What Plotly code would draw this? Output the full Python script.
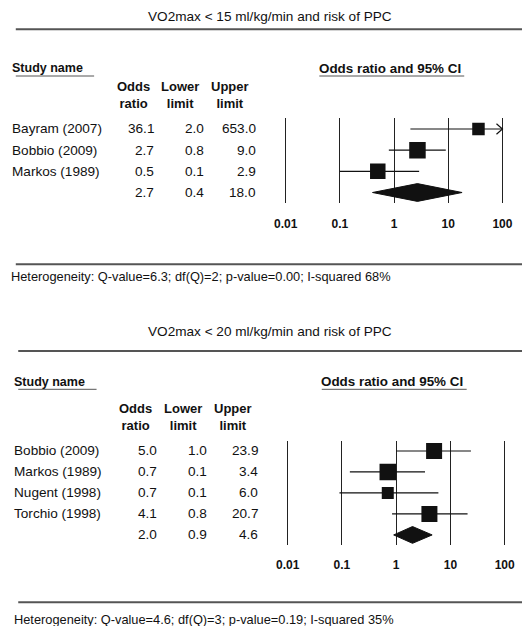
import plotly.graph_objects as go

W, H = 527, 626
FONT = "Liberation Sans, Arial, sans-serif"

# ---------------- data ----------------
title1 = "VO2max < 15 ml/kg/min and risk of PPC"
studies1 = ["Bayram (2007)", "Bobbio (2009)", "Markos (1989)"]
or1 = [36.1, 2.7, 0.5]
lo1 = [2.0, 0.8, 0.1]
hi1 = [653.0, 9.0, 2.9]
sum1 = (2.7, 0.4, 18.0)
het1 = "Heterogeneity: Q-value=6.3; df(Q)=2; p-value=0.00; I-squared 68%"

title2 = "VO2max < 20 ml/kg/min and risk of PPC"
studies2 = ["Bobbio (2009)", "Markos (1989)", "Nugent (1998)", "Torchio (1998)"]
or2 = [5.0, 0.7, 0.7, 4.1]
lo2 = [1.0, 0.14, 0.09, 0.84]
hi2 = [23.9, 3.4, 6.0, 20.7]
sum2 = (2.0, 0.9, 4.6)
het2 = "Heterogeneity: Q-value=4.6; df(Q)=3; p-value=0.19; I-squared 35%"

tickvals = [0.01, 0.1, 1, 10, 100]
ticktext = ["0.01", "0.1", "1", "10", "100"]

# marker sizes (style)
size1 = [12.5, 16.5, 15.5]
size2 = [16, 16.5, 12, 16]

def px(x):
    return x / W

def py(y):
    return 1 - y / H

fig = go.Figure()
shapes = []
ann = []
INK = "#111111"

panels = [
    dict(title=title1, studies=studies1, orv=or1, lo=lo1, hi=hi1, summ=sum1, het=het1,
         sizes=size1, xa="x", ya="y", dx=0.0, title_y=16, rule_top=29.3, ul_y=76,
         sn_y=68.3, hdr_y=95.3, rule_bot=264.3, het_y=276.7, ax_top=118.3, ax_bot=203.3,
         yr=[4.51, 0.495], x001=285.7, dec=55.33, dh=0.42),
    dict(title=title2, studies=studies2, orv=or2, lo=lo2, hi=hi2, summ=sum2, het=het2,
         sizes=size2, xa="x2", ya="y2", dx=2.5, title_y=331.7, rule_top=351, ul_y=389.3,
         sn_y=381.7, hdr_y=416.6, rule_bot=602.3, het_y=619, ax_top=440.7, ax_bot=545,
         yr=[5.48, 0.51], x001=287.7, dec=55.4, dh=0.40),
]

layout_axes = {}
for i, p in enumerate(panels):
    n = len(p["studies"])
    rows = list(range(1, n + 1))
    srow = n + 1
    xa, ya = p["xa"], p["ya"]
    dx = p["dx"]
    # CI lines
    for j in range(n):
        hi_c = min(p["hi"][j], 100)
        fig.add_trace(go.Scatter(x=[p["lo"][j], hi_c], y=[rows[j], rows[j]], mode="lines",
                                 line=dict(color=INK, width=1.2), xaxis=xa, yaxis=ya,
                                 showlegend=False, hoverinfo="skip"))
        if p["hi"][j] > 100:
            fig.add_trace(go.Scatter(x=[10 ** (2 - 0.11), 100, 10 ** (2 - 0.11)],
                                     y=[rows[j] - 0.25, rows[j], rows[j] + 0.25], mode="lines",
                                     line=dict(color=INK, width=1.2), xaxis=xa, yaxis=ya,
                                     showlegend=False, hoverinfo="skip", cliponaxis=False))
    # squares
    fig.add_trace(go.Scatter(x=p["orv"], y=rows, mode="markers",
                             marker=dict(symbol="square", size=p["sizes"], color=INK, opacity=1,
                                         line=dict(width=0)),
                             xaxis=xa, yaxis=ya, showlegend=False, hoverinfo="skip"))
    # diamond
    o, l, h = p["summ"]
    fig.add_trace(go.Scatter(x=[l, o, h, o, l], y=[srow, srow - p["dh"], srow, srow + p["dh"], srow],
                             mode="lines", fill="toself", fillcolor=INK,
                             line=dict(color=INK, width=1), xaxis=xa, yaxis=ya,
                             showlegend=False, hoverinfo="skip"))

    rmin = -2.1
    rmax = 2.1
    left = p["x001"] + (rmin + 2) * p["dec"]
    right = p["x001"] + (rmax + 2) * p["dec"]
    suffix = "" if i == 0 else "2"
    layout_axes["xaxis" + suffix] = dict(
        type="log", range=[rmin, rmax], domain=[px(left), px(right)], anchor=ya,
        tickvals=tickvals, ticktext=["<b>%s</b>" % t for t in ticktext],
        showgrid=True, gridcolor="#222222", gridwidth=1, zeroline=False, showline=False,
        ticks="outside", ticklen=9, tickcolor="rgba(0,0,0,0)",
        tickfont=dict(family=FONT, size=12, color=INK), fixedrange=True)
    layout_axes["yaxis" + suffix] = dict(
        range=p["yr"], domain=[py(p["ax_bot"]), py(p["ax_top"])], anchor=xa,
        showgrid=False, zeroline=False, showticklabels=False, showline=False, fixedrange=True)

    # titles & rules
    ann.append(dict(text=p["title"], x=px(270), y=py(p["title_y"]), xref="paper", yref="paper",
                    showarrow=False, xanchor="center", yanchor="middle",
                    font=dict(family=FONT, size=13.6, color=INK)))
    shapes.append(dict(type="line", xref="paper", yref="paper", x0=px(10 + dx), x1=1,
                       y0=py(p["rule_top"]), y1=py(p["rule_top"]), line=dict(color="#555555", width=2)))
    shapes.append(dict(type="line", xref="paper", yref="paper", x0=px(10 + dx), x1=1,
                       y0=py(p["rule_bot"]), y1=py(p["rule_bot"]), line=dict(color="#555555", width=2)))
    # section headers
    ann.append(dict(text="<b>Study name</b>", x=px(4 + dx), y=py(p["sn_y"]), xref="paper", yref="paper",
                    showarrow=False, xanchor="left", yanchor="middle",
                    font=dict(family=FONT, size=12.5, color=INK)))
    shapes.append(dict(type="line", xref="paper", yref="paper", x0=px(10 + dx), x1=px(90 + dx),
                       y0=py(p["ul_y"]), y1=py(p["ul_y"]), line=dict(color="#555555", width=1)))
    ann.append(dict(text="<b>Odds ratio and 95% CI</b>", x=px(392 + dx), y=py(p["sn_y"]), xref="paper",
                    yref="paper", showarrow=False, xanchor="center", yanchor="middle",
                    font=dict(family=FONT, size=13.4, color=INK)))
    shapes.append(dict(type="line", xref="paper", yref="paper", x0=px(320 + dx), x1=px(468 + dx),
                       y0=py(p["ul_y"]), y1=py(p["ul_y"]), line=dict(color="#555555", width=1)))
    # column headers
    for txt, cx in [("Odds<br>ratio", 130), ("Lower<br>limit", 178), ("Upper<br>limit", 229)]:
        ann.append(dict(text="<b>%s</b>" % txt, x=px(cx + dx), y=py(p["hdr_y"]), xref="paper",
                        yref="paper", showarrow=False, xanchor="center", yanchor="middle",
                        align="center", font=dict(family=FONT, size=13, color=INK)))
    # table rows
    names = p["studies"] + [""]
    col_or = p["orv"] + [o]
    col_lo = p["lo"] + [l]
    col_hi = p["hi"] + [h]
    for j in range(n + 1):
        r = j + 1
        if names[j]:
            ann.append(dict(text=names[j], x=px(4 + dx), y=r, xref="paper", yref=ya,
                            showarrow=False, xanchor="left", yanchor="middle",
                            font=dict(family=FONT, size=13.6, color=INK)))
        for val, rx in [(col_or[j], 153.5), (col_lo[j], 204.5), (col_hi[j], 257)]:
            ann.append(dict(text="%.1f" % val, x=px(rx + dx), y=r, xref="paper", yref=ya,
                            showarrow=False, xanchor="right", yanchor="middle",
                            font=dict(family=FONT, size=13.6, color=INK)))
    # heterogeneity
    ann.append(dict(text=p["het"], x=px(3.5 + dx), y=py(p["het_y"]), xref="paper", yref="paper",
                    showarrow=False, xanchor="left", yanchor="middle",
                    font=dict(family=FONT, size=12.8, color=INK)))

fig.update_layout(
    width=W, height=H, margin=dict(l=0, r=0, t=0, b=0),
    paper_bgcolor="white", plot_bgcolor="white",
    shapes=shapes, annotations=ann, showlegend=False,
    **layout_axes,
)

fig.write_html("out.html", config={"displayModeBar": False})
